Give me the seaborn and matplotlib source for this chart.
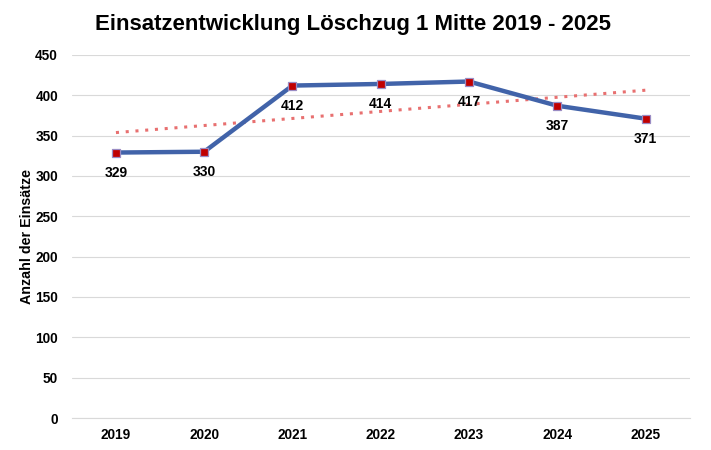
import numpy as np
import pandas as pd
import matplotlib.pyplot as plt
import seaborn as sns

# -----------------------------
# Data
# -----------------------------
years = ["2019", "2020", "2021", "2022", "2023", "2024", "2025"]
einsaetze = [329, 330, 412, 414, 417, 387, 371]

df = pd.DataFrame({"pos": range(len(years)), "Jahr": years, "Einsaetze": einsaetze})

# linear trend like the spreadsheet trendline
slope, intercept = np.polyfit(df["pos"], df["Einsaetze"], 1)
df["Trend"] = intercept + slope * df["pos"]

# -----------------------------
# Plot
# -----------------------------
sns.set_style("white")
plt.rcParams["font.family"] = ["Liberation Sans", "DejaVu Sans"]
plt.rcParams["text.color"] = "black"
plt.rcParams["axes.labelcolor"] = "black"
plt.rcParams["xtick.color"] = "black"
plt.rcParams["ytick.color"] = "black"

fig = plt.figure(figsize=(7.11, 4.5), dpi=100)
ax = fig.add_axes([0.101, 0.071, 0.869, 0.807])

ax.yaxis.grid(True, color="#d9d9d9", linewidth=0.8)
ax.set_axisbelow(True)

sns.lineplot(data=df, x="pos", y="Trend", ax=ax, color="#e87070",
             linestyle=(0, (1, 2.2)), linewidth=2.2, zorder=2)
sns.lineplot(data=df, x="pos", y="Einsaetze", ax=ax, color="#4163a9",
             linewidth=3.2, marker="s", markersize=5.5,
             markerfacecolor="#c00000", markeredgecolor="#9a8cc4",
             markeredgewidth=0.9, zorder=3)

for p, v in zip(df["pos"], df["Einsaetze"]):
    ax.annotate(str(v), (p, v), xytext=(0, -9.5), textcoords="offset points",
                ha="center", va="top", fontsize=10, fontweight="bold")

ax.set_xlim(-0.5, len(years) - 0.5)
ax.set_ylim(0, 450)
ax.set_xticks(df["pos"])
ax.set_xticklabels(years)
ax.set_yticks(range(0, 451, 50))
ax.tick_params(axis="both", length=0, labelsize=9.8)
for lab in ax.get_xticklabels() + ax.get_yticklabels():
    lab.set_fontweight("bold")
ax.tick_params(axis="x", pad=7)
ax.tick_params(axis="y", pad=10)

ax.set_xlabel("")
ax.set_ylabel("Anzahl der Einsätze", fontsize=10.3, fontweight="bold", labelpad=1)

for s in ["top", "right", "left"]:
    ax.spines[s].set_visible(False)
ax.spines["bottom"].set_color("#d9d9d9")
ax.spines["bottom"].set_linewidth(0.8)

fig.suptitle("Einsatzentwicklung Löschzug 1 Mitte 2019 - 2025", x=0.497, y=0.968,
             fontsize=16, fontweight="bold")

fig.savefig("out.png", dpi=100)
